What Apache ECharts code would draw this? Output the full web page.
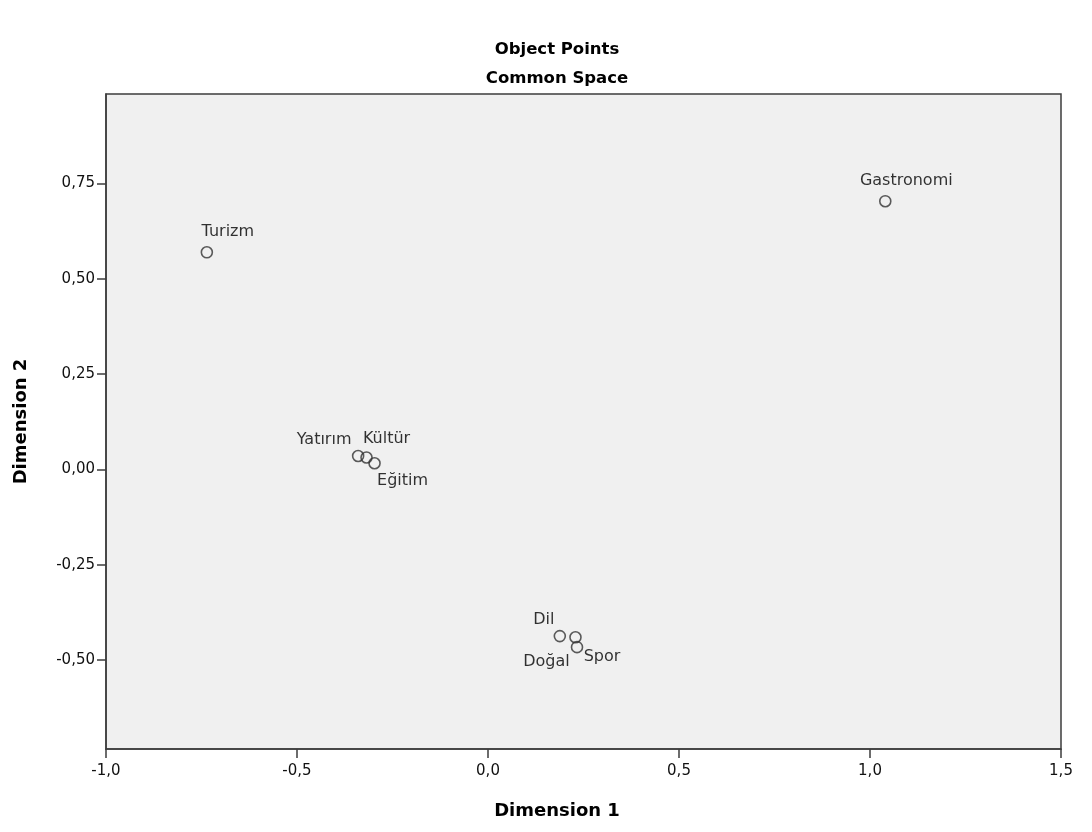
<!DOCTYPE html>
<html>
<head>
<meta charset="utf-8">
<script src="https://cdn.jsdelivr.net/npm/echarts@6/dist/echarts.min.js"></script>
<style>html,body{margin:0;padding:0;background:#fff}#c{width:1092px;height:832px}</style>
</head>
<body>
<div id="c"></div>
<script>
// ---- data ----
const names = ['Turizm', 'Gastronomi', 'Yatırım', 'Kültür', 'Eğitim', 'Dil', 'Doğal', 'Spor'];
const dim1 = [-0.736, 1.040, -0.340, -0.318, -0.297, 0.188, 0.229, 0.233];
const dim2 = [0.569, 0.703, 0.035, 0.031, 0.016, -0.437, -0.440, -0.466];
const yTicks = [-0.5, -0.25, 0, 0.25, 0.5, 0.75];
const xTicks = [-1.0, -0.5, 0.0, 0.5, 1.0, 1.5];

// ---- label placement (style) ----
const labelOffsets = {
  'Turizm': [21, -20], 'Gastronomi': [21, -20], 'Yatırım': [-34, -16],
  'Kültür': [20, -19], 'Eğitim': [28, 18], 'Dil': [-16, -16],
  'Doğal': [-29, 25], 'Spor': [25, 10]
};

const FONT = 'DejaVu Sans';
const fmt = (v, d) => v.toFixed(d).replace('.', ',');

const chart = echarts.init(document.getElementById('c'), null, {renderer: 'canvas'});
chart.setOption({
  animation: false,
  backgroundColor: '#ffffff',
  title: [
    {text: 'Object Points', left: 552, top: 36, textAlign: 'center',
     textStyle: {fontFamily: FONT, fontSize: 16.5, fontWeight: 'bold', color: '#000'}},
    {text: 'Common Space', left: 552, top: 65, textAlign: 'center',
     textStyle: {fontFamily: FONT, fontSize: 16.5, fontWeight: 'bold', color: '#000'}},
    {text: 'Dimension 1', left: 552, top: 797, textAlign: 'center',
     textStyle: {fontFamily: FONT, fontSize: 18, fontWeight: 'bold', color: '#000'}}
  ],
  grid: {
    left: 106, top: 94, right: 31, bottom: 83,
    show: true, backgroundColor: '#f0f0f0', borderColor: '#3c3c3c', borderWidth: 1.5
  },
  xAxis: {
    type: 'value', min: xTicks[0], max: xTicks[xTicks.length - 1], interval: 0.5,
    axisLine: {show: true, onZero: false, lineStyle: {color: '#3c3c3c', width: 1.5}},
    axisTick: {show: true, inside: false, length: 9, lineStyle: {color: '#3c3c3c', width: 1.5}},
    axisLabel: {margin: 15, fontFamily: FONT, fontSize: 15, color: '#111',
      formatter: v => fmt(v, 1)},
    splitLine: {show: false}
  },
  yAxis: {
    type: 'value', min: -0.733, max: 0.984,
    name: 'Dimension 2', nameLocation: 'middle', nameGap: 76, nameRotate: 90,
    nameTextStyle: {fontFamily: FONT, fontSize: 18, fontWeight: 'bold', color: '#000'},
    axisLine: {show: true, onZero: false, lineStyle: {color: '#3c3c3c', width: 1.5}},
    axisTick: {show: true, inside: false, length: 9, customValues: yTicks,
      lineStyle: {color: '#3c3c3c', width: 1.5}},
    axisLabel: {margin: 11, fontFamily: FONT, fontSize: 15, color: '#111', customValues: yTicks,
      formatter: v => fmt(v, 2)},
    splitLine: {show: false}
  },
  series: [{
    type: 'scatter',
    symbol: 'circle',
    symbolSize: 11,
    itemStyle: {color: 'rgba(0,0,0,0)', borderColor: '#333', borderWidth: 1.6},
    label: {
      show: true, position: 'inside', fontFamily: FONT, fontSize: 16, color: '#000',
      textBorderWidth: 0, formatter: p => p.name
    },
    data: names.map((n, i) => ({
      name: n, value: [dim1[i], dim2[i]],
      label: {offset: labelOffsets[n]}
    }))
  }]
});
</script>
</body>
</html>
